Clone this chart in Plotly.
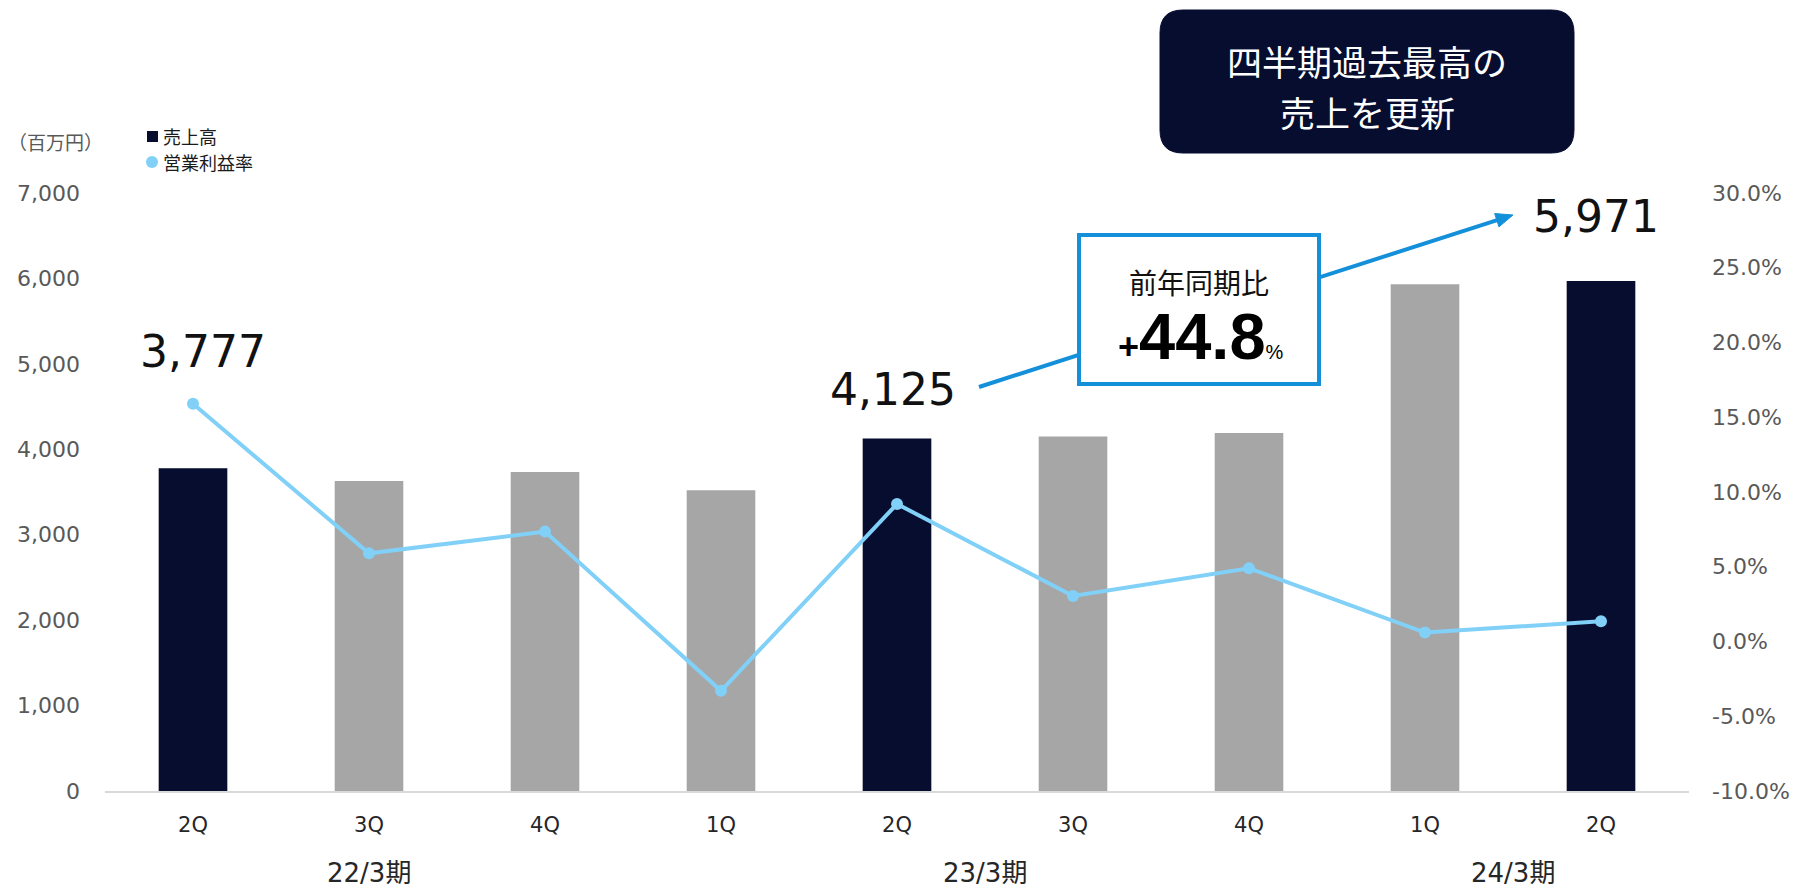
import plotly.graph_objects as go

# ---- data ----
quarters = ["2Q", "3Q", "4Q", "1Q", "2Q", "3Q", "4Q", "1Q", "2Q"]
fiscal_years = ["22/3期", "23/3期", "24/3期"]
fiscal_spans = [(0, 2), (3, 6), (7, 8)]           # first/last quarter index of each fiscal year
sales = [3777, 3628, 3735, 3521, 4125, 4150, 4191, 5931, 5971]   # 百万円
op_margin = [15.9, 5.9, 7.35, -3.3, 9.2, 3.05, 4.9, 0.6, 1.35]   # %
highlight = [True, False, False, False, True, False, False, False, True]
labelled = {0: (10, 117), 4: (-4, 49), 8: (-5, 64)}   # bar index -> (x shift, y shift) of value label
margin_ticks = [-10, -5, 0, 5, 10, 15, 20, 25, 30]
headline = ["四半期過去最高の", "売上を更新"]

NAVY = "#060D2E"
GRAY = "#A6A6A6"
LIGHT_BLUE = "#80D0F8"
ARROW_BLUE = "#1490DA"
TICK_GRAY = "#595959"
CJK = "Noto Sans CJK JP"
LATIN = "DejaVu Sans"

W, H = 1801, 889
L, R, T, B = 105, 1689, 193, 791   # plot area in pixels


def px(x):
    return (x - L) / (R - L)


def py(y):
    return (B - y) / (B - T)


x_idx = list(range(len(quarters)))

fig = go.Figure()
fig.add_trace(go.Bar(
    x=x_idx, y=sales, name="売上高",
    marker=dict(color=[NAVY if h else GRAY for h in highlight], line=dict(width=0)),
    width=0.39, showlegend=False, hoverinfo="skip",
))
fig.add_trace(go.Scatter(
    x=x_idx, y=op_margin, name="営業利益率", yaxis="y2", mode="lines+markers",
    line=dict(color=LIGHT_BLUE, width=4), marker=dict(color=LIGHT_BLUE, size=12),
    showlegend=False, hoverinfo="skip",
))

shapes = []
annotations = []

# value labels above the highlighted bars
for i, (dx, dy) in labelled.items():
    annotations.append(dict(
        x=i, y=sales[i], xref="x", yref="y", text=f"{sales[i]:,}", showarrow=False,
        xshift=dx, yshift=dy, xanchor="center", yanchor="middle",
        font=dict(family=LATIN, size=44, color="#111111"),
    ))

# fiscal-year group labels under the quarter ticks
for name, (a, b) in zip(fiscal_years, fiscal_spans):
    annotations.append(dict(
        x=(a + b) / 2, y=py(873), xref="x", yref="paper", text=name, showarrow=False,
        xanchor="center", yanchor="middle",
        font=dict(family=f"{LATIN}, {CJK}", size=26, color="#262626"),
    ))

# unit label
annotations.append(dict(
    x=px(6), y=py(141), xref="paper", yref="paper", text="（百万円）", showarrow=False,
    xanchor="left", yanchor="middle", font=dict(family=CJK, size=19, color=TICK_GRAY),
))

# legend
shapes.append(dict(type="rect", xref="paper", yref="paper",
                   x0=px(147), x1=px(158), y0=py(142), y1=py(131),
                   fillcolor=NAVY, line=dict(width=0)))
shapes.append(dict(type="circle", xref="paper", yref="paper",
                   x0=px(146), x1=px(158), y0=py(168), y1=py(156),
                   fillcolor=LIGHT_BLUE, line=dict(width=0)))
for text, yy in (("売上高", 136), ("営業利益率", 162)):
    annotations.append(dict(
        x=px(161), y=py(yy), xref="paper", yref="paper", text=text, showarrow=False,
        xanchor="left", yanchor="middle", font=dict(family=CJK, size=18, color="#1A1A1A"),
    ))

# headline badge with rounded corners
bx0, bx1, by0, by1, rad = 1160, 1574, 10, 153, 23
rx, ry = rad / (R - L), rad / (B - T)
X0, X1, Y0, Y1 = px(bx0), px(bx1), py(by1), py(by0)
badge = (f"M {X0 + rx},{Y1} L {X1 - rx},{Y1} Q {X1},{Y1} {X1},{Y1 - ry} "
         f"L {X1},{Y0 + ry} Q {X1},{Y0} {X1 - rx},{Y0} "
         f"L {X0 + rx},{Y0} Q {X0},{Y0} {X0},{Y0 + ry} "
         f"L {X0},{Y1 - ry} Q {X0},{Y1} {X0 + rx},{Y1} Z")
shapes.append(dict(type="path", xref="paper", yref="paper", path=badge,
                   fillcolor=NAVY, line=dict(color=NAVY, width=1), layer="above"))
for text, yy in zip(headline, (61, 112)):
    annotations.append(dict(
        x=px((bx0 + bx1) / 2), y=py(yy), xref="paper", yref="paper", text=text,
        showarrow=False, xanchor="center", yanchor="middle",
        font=dict(family=CJK, size=35, color="white"),
    ))

# year-on-year growth arrow and callout box
sx, sy = 979, 387
tx, ty = 1513, 215
dxv, dyv = tx - sx, ty - sy
n = (dxv ** 2 + dyv ** 2) ** 0.5
ux, uy = dxv / n, dyv / n
head_len, head_half = 17, 7
bxh, byh = tx - head_len * ux, ty - head_len * uy
shapes.append(dict(type="line", xref="paper", yref="paper",
                   x0=px(sx), y0=py(sy), x1=px(bxh + ux * 2), y1=py(byh + uy * 2),
                   line=dict(color=ARROW_BLUE, width=4), layer="above"))
p1 = (bxh - uy * head_half, byh + ux * head_half)
p2 = (bxh + uy * head_half, byh - ux * head_half)
shapes.append(dict(type="path", xref="paper", yref="paper",
                   path=f"M {px(tx)},{py(ty)} L {px(p1[0])},{py(p1[1])} L {px(p2[0])},{py(p2[1])} Z",
                   fillcolor=ARROW_BLUE, line=dict(color=ARROW_BLUE, width=1), layer="above"))
shapes.append(dict(type="rect", xref="paper", yref="paper",
                   x0=px(1079), x1=px(1319), y0=py(384), y1=py(235),
                   fillcolor="white", line=dict(color=ARROW_BLUE, width=4), layer="above"))

growth = (sales[8] / sales[4] - 1) * 100
annotations.append(dict(
    x=px(1199), y=py(282), xref="paper", yref="paper", text="前年同期比", showarrow=False,
    xanchor="center", yanchor="middle", font=dict(family=CJK, size=28, color="#111111"),
))
annotations.append(dict(
    x=px(1201), y=py(336), xref="paper", yref="paper",
    text=(f'<b style="font-size:36px">+</b>'
          f'<b style="font-size:65px">{growth:.1f}</b>'
          f'<span style="font-size:20px">%</span>'),
    showarrow=False, xanchor="center", yanchor="middle",
    font=dict(family="Liberation Sans, Arial", size=28, color="#000000"),
))

fig.update_layout(
    width=W, height=H,
    margin=dict(l=L, r=W - R, t=T, b=H - B, pad=0),
    paper_bgcolor="white", plot_bgcolor="white",
    bargap=0.61, showlegend=False,
    xaxis=dict(
        range=[-0.5, len(quarters) - 0.5], tickmode="array", tickvals=x_idx, ticktext=quarters,
        showgrid=False, zeroline=False, showline=True, linecolor="#D9D9D9", linewidth=2,
        ticks="", ticklabelstandoff=14,
        tickfont=dict(family=LATIN, size=21, color="#262626"),
    ),
    yaxis=dict(
        range=[0, 7000], tickmode="linear", tick0=0, dtick=1000, tickformat=",",
        showgrid=False, zeroline=False, showline=False, ticks="", ticklabelstandoff=24,
        tickfont=dict(family=LATIN, size=22, color=TICK_GRAY),
    ),
    yaxis2=dict(
        overlaying="y", side="right", range=[-10, 30], tickmode="array",
        tickvals=margin_ticks, ticktext=[f"{v:.1f}%" for v in margin_ticks],
        showgrid=False, zeroline=False, showline=False,
        ticks="", ticklabelstandoff=22,
        tickfont=dict(family=LATIN, size=22, color=TICK_GRAY),
    ),
    shapes=shapes,
    annotations=annotations,
)

fig.write_html("out.html")
